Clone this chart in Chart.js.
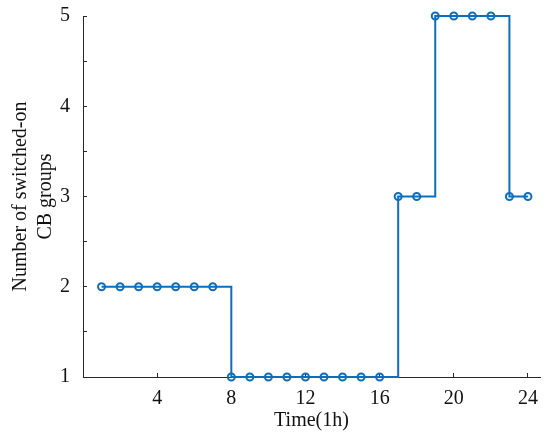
<!DOCTYPE html>
<html>
<head>
<meta charset="utf-8">
<script src="https://cdn.jsdelivr.net/npm/chart.js@4/dist/chart.umd.min.js"></script>
<style>
  body { margin: 0; background: #fff; }
  #wrap { width: 550px; height: 442px; }
</style>
</head>
<body>
<div id="wrap"><canvas id="myChart" width="550" height="442"></canvas></div>
<script>
var hours = [1, 2, 3, 4, 5, 6, 7, 8, 9, 10, 11, 12, 13, 14, 15, 16, 17, 18, 19, 20, 21, 22, 23, 24];
var cbGroups = [2, 2, 2, 2, 2, 2, 2, 1, 1, 1, 1, 1, 1, 1, 1, 1, 3, 3, 5, 5, 5, 5, 3, 3];
var xTicks = [4, 8, 12, 16, 20, 24];
var yTicks = [1, 1.5, 2, 2.5, 3, 3.5, 4, 4.5, 5];

var points = hours.map(function (h, i) { return { x: h, y: cbGroups[i] }; });

var axisColor = '#262626';
var font = { family: '"Liberation Serif", "Times New Roman", serif', size: 20 };

var ctx = document.getElementById('myChart').getContext('2d');
var myChart = new Chart(ctx, {
  type: 'line',
  data: {
    datasets: [{
      data: points,
      stepped: 'before',
      borderColor: '#0b6fbe',
      borderWidth: 2,
      pointRadius: 3.5,
      pointBorderWidth: 2,
      pointBorderColor: '#0b6fbe',
      pointBackgroundColor: 'rgba(0,0,0,0)',
      fill: false,
      clip: false
    }]
  },
  options: {
    responsive: false,
    animation: false,
    devicePixelRatio: 1,
    layout: { padding: { top: 16, right: 10, left: 0, bottom: 0 } },
    plugins: { legend: { display: false }, tooltip: { enabled: false } },
    scales: {
      x: {
        type: 'linear',
        min: 0,
        max: 24.65,
        afterBuildTicks: function (scale) {
          scale.ticks = xTicks.map(function (v) { return { value: v }; });
        },
        afterFit: function (scale) {
          scale.height = 65;
          scale.paddingLeft = 0;
          scale.paddingRight = 0;
        },
        grid: { drawOnChartArea: false, tickLength: -4, color: axisColor, tickColor: axisColor },
        border: { color: axisColor, width: 1 },
        ticks: { color: '#111', font: font, padding: 14, maxRotation: 0 },
        title: { display: true, text: 'Time(1h)', color: '#111', font: font, padding: { top: 9, bottom: 9 } }
      },
      y: {
        min: 1,
        max: 5,
        afterBuildTicks: function (scale) {
          scale.ticks = yTicks.map(function (v) { return { value: v }; });
        },
        afterFit: function (scale) {
          scale.width = 83;
          scale.paddingTop = 0;
          scale.paddingBottom = 0;
        },
        grid: { drawOnChartArea: false, tickLength: -4, color: axisColor, tickColor: axisColor },
        border: { color: axisColor, width: 1 },
        ticks: {
          color: '#111',
          font: font,
          padding: 17,
          callback: function (v) { return Number.isInteger(v) ? String(v) : ''; }
        },
        title: {
          display: true,
          text: ['Number of switched-on', 'CB groups'],
          color: '#111',
          font: { family: font.family, size: 20, lineHeight: 1.25 },
          padding: { top: 8, bottom: 8 }
        }
      }
    }
  }
});
</script>
</body>
</html>
